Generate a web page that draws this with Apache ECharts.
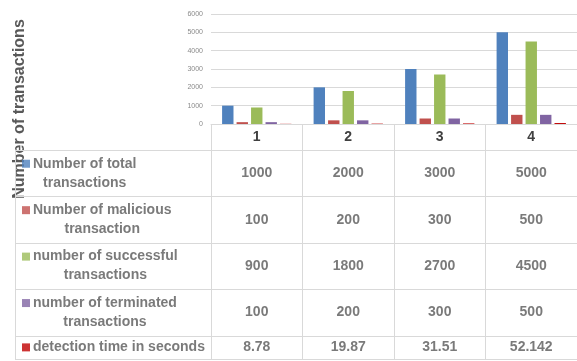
<!DOCTYPE html>
<html>
<head>
<meta charset="utf-8">
<title>Transactions per run</title>
<script src="https://cdn.jsdelivr.net/npm/echarts@6.0.0/dist/echarts.min.js"></script>
<style>
  html, body { margin: 0; padding: 0; background: #ffffff; }
  #chart { width: 577px; height: 361px; }
</style>
</head>
<body>
<div id="chart"></div>
<script>
// Runs shown along the category axis
const categories = ['1', '2', '3', '4'];

// Series values per run
const totalTransactions = [1000, 2000, 3000, 5000];
const maliciousTransactions = [100, 200, 300, 500];
const successfulTransactions = [900, 1800, 2700, 4500];
const terminatedTransactions = [100, 200, 300, 500];
const detectionSeconds = [8.78, 19.87, 31.51, 52.142];

// Value axis range and tick step (labels 0 ... 6000)
const yMin = 0;
const yMax = 6000;
const yStep = 1000;

// Row captions for the data table (line breaks as wrapped in the table)
const rowCaptions = [
  'Number of total\ntransactions',
  'Number of malicious\ntransaction',
  'number of successful\ntransactions',
  'number of terminated\ntransactions',
  'detection time in seconds'
];
const rowValues = [
  totalTransactions,
  maliciousTransactions,
  successfulTransactions,
  terminatedTransactions,
  detectionSeconds
];
const seriesColors = ['#4f81bd', '#c0504d', '#9bbb59', '#8064a2', '#c00000'];

const FONT = 'Liberation Sans, Arial, sans-serif';
const TEXT = '#595959';
const RULE = '#d9d9d9';

// Each table row is as tall as its caption has lines; rows are laid out
// on a value axis measured in caption lines.
const rowSpans = rowCaptions.map(c => c.split('\n').length);
const rowStarts = [];
rowSpans.reduce((acc, s, i) => { rowStarts[i] = acc; return acc + s; }, 0);
const tableLines = rowSpans.reduce((a, b) => a + b, 0);
const rowCenters = rowSpans.map((s, i) => rowStarts[i] + s / 2);

// Cell values of the table
const cellData = [];
rowValues.forEach((vals, r) => {
  vals.forEach((v, c) => {
    cellData.push([c, rowCenters[r], String(v)]);
  });
});

// Caption cells with a colour key in front of the first line
const rich = {
  t: { fontFamily: FONT, fontSize: 14, fontWeight: 'bold', color: TEXT, lineHeight: 19, align: 'center' },
  g: { width: 3, align: 'center' },
  p: { width: 11, align: 'center' }
};
seriesColors.forEach((col, i) => {
  rich['k' + i] = { width: 8, height: 8, backgroundColor: col, align: 'center' };
});
const captionData = rowCaptions.map((cap, i) => {
  const lines = cap.split('\n');
  const text = lines.map((ln, j) =>
    j === 0 ? '{k' + i + '|}{g|}{t|' + ln + '}' : '{p|}{t|' + ln + '}'
  ).join('\n');
  return { value: [0, rowCenters[i]], caption: text };
});

const chart = echarts.init(document.getElementById('chart'), null, { renderer: 'canvas' });

const barSeries = rowValues.map((vals, i) => ({
  type: 'bar',
  name: rowCaptions[i].replace('\n', ' '),
  xAxisIndex: 0,
  yAxisIndex: 0,
  data: vals,
  barWidth: 11.4,
  barGap: '27%',
  itemStyle: { color: seriesColors[i] }
}));

chart.setOption({
  animation: false,
  backgroundColor: '#ffffff',
  grid: [
    // bar plot
    { left: 211, top: 14, width: 376, height: 110 },
    // table body, value columns
    { left: 211, top: 150, width: 376, height: 209 },
    // table body, caption column
    { left: 15, top: 150, width: 196, height: 209 }
  ],
  xAxis: [
    {
      gridIndex: 0,
      type: 'category',
      data: categories,
      axisLine: { show: true, lineStyle: { color: RULE, width: 1 } },
      axisTick: { show: true, alignWithLabel: false, length: 26, interval: 0, lineStyle: { color: RULE } },
      axisLabel: { fontFamily: FONT, fontSize: 14, fontWeight: 'bold', color: '#404040', margin: 6 },
      splitLine: { show: false }
    },
    {
      gridIndex: 1,
      type: 'category',
      data: categories,
      boundaryGap: true,
      axisLine: { show: true, lineStyle: { color: RULE } },
      axisTick: { show: false },
      axisLabel: { show: false },
      splitLine: { show: true, interval: 0, lineStyle: { color: RULE, width: 1 } }
    },
    {
      gridIndex: 2,
      type: 'value',
      min: 0,
      max: 1,
      show: false
    }
  ],
  yAxis: [
    {
      gridIndex: 0,
      type: 'value',
      min: yMin,
      max: yMax,
      interval: yStep,
      axisLine: { show: false },
      axisTick: { show: false },
      axisLabel: { fontFamily: FONT, fontSize: 7, color: '#8a8a8a', margin: 8, formatter: v => String(v) },
      splitLine: { lineStyle: { color: RULE, width: 1 } }
    },
    {
      gridIndex: 1,
      type: 'value',
      inverse: true,
      min: 0,
      max: tableLines,
      interval: 2,
      axisLine: { show: false },
      axisTick: { show: false },
      axisLabel: { show: false },
      splitLine: { show: true, lineStyle: { color: RULE, width: 1 } }
    },
    {
      gridIndex: 2,
      type: 'value',
      inverse: true,
      min: 0,
      max: tableLines,
      interval: 2,
      axisLine: { show: true, lineStyle: { color: RULE } },
      axisTick: { show: false },
      axisLabel: { show: false },
      splitLine: { show: true, lineStyle: { color: RULE, width: 1 } }
    }
  ],
  series: barSeries.concat([
    {
      type: 'scatter',
      xAxisIndex: 1,
      yAxisIndex: 1,
      symbolSize: 0,
      silent: true,
      data: cellData,
      label: {
        show: true,
        position: 'inside',
        formatter: p => p.value[2],
        fontFamily: FONT,
        fontSize: 14,
        fontWeight: 'bold',
        color: TEXT
      }
    },
    {
      type: 'scatter',
      xAxisIndex: 2,
      yAxisIndex: 2,
      symbolSize: 0,
      silent: true,
      data: captionData,
      label: {
        show: true,
        position: 'right',
        distance: 7,
        align: 'left',
        verticalAlign: 'middle',
        formatter: p => p.data.caption,
        rich: rich
      }
    }
  ]),
  graphic: [
    {
      type: 'text',
      x: 20,
      y: 109,
      rotation: Math.PI / 2,
      style: {
        text: 'Number of transactions',
        fontFamily: FONT,
        fontSize: 16,
        fontWeight: 'bold',
        fill: TEXT,
        align: 'center',
        verticalAlign: 'middle'
      }
    }
  ]
});
</script>
</body>
</html>
